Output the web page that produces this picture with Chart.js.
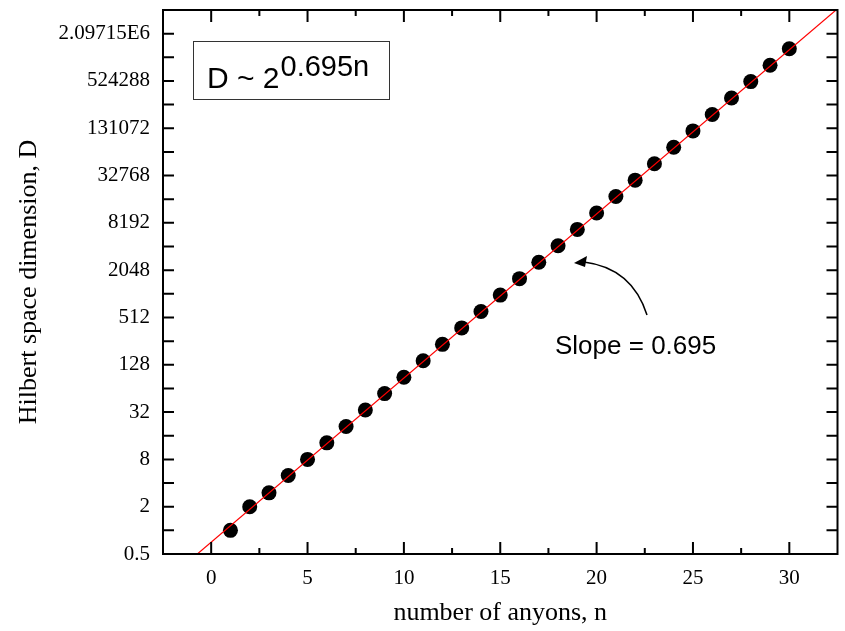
<!DOCTYPE html>
<html>
<head>
<meta charset="utf-8">
<script src="https://cdn.jsdelivr.net/npm/chart.js@4"></script>
<style>
  html, body { margin: 0; padding: 0; background: #fff; }
  #wrap { width: 845px; height: 631px; }
</style>
</head>
<body>
<div id="wrap"><canvas id="chart" width="845" height="631"></canvas></div>
<script>
// === data ===
const anyons = [1, 2, 3, 4, 5, 6, 7, 8, 9, 10, 11, 12, 13, 14, 15, 16, 17, 18, 19, 20, 21, 22, 23, 24, 25, 26, 27, 28, 29, 30];
const dimension = [1, 2, 3, 5, 8, 13, 21, 34, 55, 89, 144, 233, 377, 610, 987, 1597, 2584, 4181, 6765, 10946,
  17711, 28657, 46368, 75025, 121393, 196418, 317811, 514229, 832040, 1346269];

// fitted line end points (slope 0.695 in log2)
const fitN = [-1, 33];
const fitD = [0.437, 5.53e6];

const xTicks = [0, 5, 10, 15, 20, 25, 30];
const yTicks = [0.5, 2, 8, 32, 128, 512, 2048, 8192, 32768, 131072, 524288, 2097152];
const yTickLabels = ["0.5", "2", "8", "32", "128", "512", "2048", "8192", "32768", "131072", "524288", "2.09715E6"];

const serif = "'Liberation Serif', 'Times New Roman', serif";
const sans = "'Liberation Sans', Arial, sans-serif";

// === frame, inner ticks and annotations ===
const framePlugin = {
  id: "frame",
  afterDraw(chart) {
    const { ctx, chartArea: a, scales } = chart;
    const xs = scales.x, ys = scales.y;
    ctx.save();
    ctx.strokeStyle = "#000";
    ctx.lineWidth = 2;
    ctx.strokeRect(a.left, a.top, a.right - a.left, a.bottom - a.top);

    ctx.beginPath();
    // bottom / top ticks
    xTicks.forEach((v) => {
      const px = xs.getPixelForValue(v);
      ctx.moveTo(px, a.bottom); ctx.lineTo(px, a.bottom - 12);
      ctx.moveTo(px, a.top); ctx.lineTo(px, a.top + 12);
      const pm = xs.getPixelForValue(v + 2.5);
      if (pm < a.right - 2) {
        ctx.moveTo(pm, a.bottom); ctx.lineTo(pm, a.bottom - 6);
        ctx.moveTo(pm, a.top); ctx.lineTo(pm, a.top + 6);
      }
    });
    const pm0 = xs.getPixelForValue(xTicks[0] - 2.5);
    if (pm0 > a.left + 2) {
      ctx.moveTo(pm0, a.bottom); ctx.lineTo(pm0, a.bottom - 6);
      ctx.moveTo(pm0, a.top); ctx.lineTo(pm0, a.top + 6);
    }
    // left / right ticks at every doubling
    yTicks.forEach((v) => {
      [v, v * 2].forEach((t) => {
        const py = ys.getPixelForValue(t);
        if (py < a.top + 2 || py > a.bottom - 2) return;
        ctx.moveTo(a.left, py); ctx.lineTo(a.left + 11, py);
        ctx.moveTo(a.right, py); ctx.lineTo(a.right - 11, py);
      });
    });
    ctx.stroke();

    // formula box
    ctx.lineWidth = 1;
    ctx.strokeStyle = "#333";
    ctx.strokeRect(193.5, 41.5, 196, 58);
    ctx.fillStyle = "#000";
    ctx.textBaseline = "alphabetic";
    ctx.font = "30px " + sans;
    ctx.fillText("D ~ 2", 207, 88);
    const w = ctx.measureText("D ~ 2").width;
    ctx.font = "29px " + sans;
    ctx.fillText("0.695n", 207 + w + 1, 76);

    // slope label with curved arrow
    ctx.font = "26px " + sans;
    ctx.fillText("Slope = 0.695", 555, 354);
    ctx.strokeStyle = "#000";
    ctx.lineWidth = 1.5;
    ctx.beginPath();
    ctx.moveTo(647, 315);
    ctx.quadraticCurveTo(632, 268, 584, 262);
    ctx.stroke();
    ctx.beginPath();
    ctx.moveTo(574, 263);
    ctx.lineTo(587, 256);
    ctx.lineTo(585, 267);
    ctx.closePath();
    ctx.fill();
    ctx.restore();
  }
};

const ctx = document.getElementById("chart").getContext("2d");
new Chart(ctx, {
  type: "scatter",
  data: {
    datasets: [
      {
        label: "fit",
        data: fitN.map((n, i) => ({ x: n, y: fitD[i] })),
        showLine: true,
        borderColor: "#ff0000",
        borderWidth: 1.2,
        pointRadius: 0,
        fill: false
      },
      {
        label: "D",
        data: anyons.map((n, i) => ({ x: n, y: dimension[i] })),
        pointRadius: 7.5,
        pointBackgroundColor: "#000",
        pointBorderColor: "#000",
        pointBorderWidth: 0
      }
    ]
  },
  options: {
    responsive: false,
    animation: false,
    layout: { padding: { top: 10, right: 7, left: 0, bottom: 0 } },
    plugins: { legend: { display: false }, tooltip: { enabled: false } },
    scales: {
      x: {
        type: "linear",
        min: -2.5,
        max: 32.5,
        afterBuildTicks: (s) => { s.ticks = xTicks.map((v) => ({ value: v })); },
        afterFit: (s) => { s.height = 77; s.paddingLeft = 0; s.paddingRight = 0; },
        grid: { display: false, drawTicks: false },
        border: { display: false },
        ticks: { autoSkip: false, maxRotation: 0, padding: 12, color: "#000", font: { family: serif, size: 21 } },
        title: { display: true, text: "number of anyons, n", color: "#000", padding: { top: 4, bottom: 2 }, font: { family: serif, size: 26 } }
      },
      y: {
        type: "logarithmic",
        min: 0.5,
        max: 4194304,
        afterBuildTicks: (s) => { s.ticks = yTicks.map((v) => ({ value: v })); },
        afterFit: (s) => { s.width = 163; s.paddingTop = 0; s.paddingBottom = 0; },
        grid: { display: false, drawTicks: false },
        border: { display: false },
        ticks: {
          autoSkip: false,
          padding: 13,
          color: "#000",
          font: { family: serif, size: 21 },
          callback: (v, i) => yTickLabels[i]
        },
        title: { display: true, text: "Hilbert space dimension, D", color: "#000", padding: { top: 14, bottom: 4 }, font: { family: serif, size: 26 } }
      }
    }
  },
  plugins: [framePlugin]
});
</script>
</body>
</html>
